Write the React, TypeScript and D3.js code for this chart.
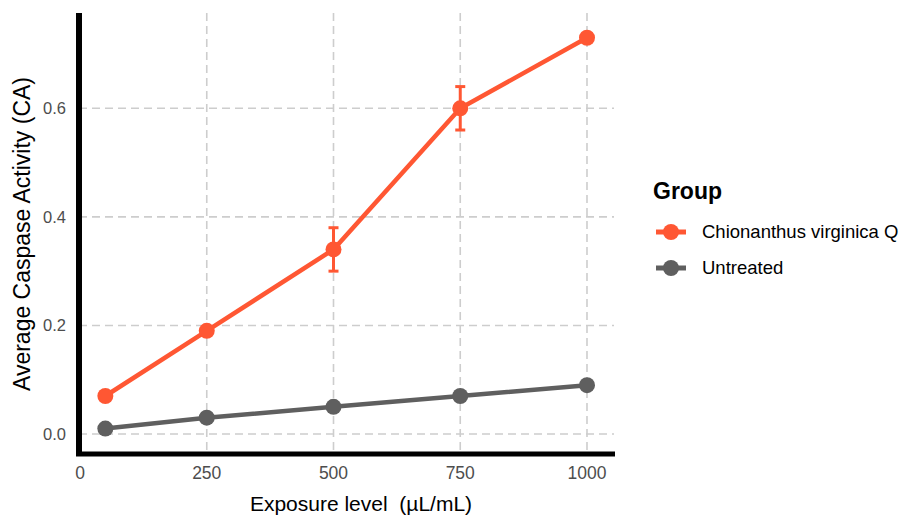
import React from 'react';
import * as d3 from 'd3';

// exposure levels (µL/mL)
const exposure = [50, 250, 500, 750, 1000];
const treatedMean = [0.07, 0.19, 0.34, 0.6, 0.73];
const treatedErr = [0, 0, 0.04, 0.04, 0];
const untreatedMean = [0.01, 0.03, 0.05, 0.07, 0.09];
const untreatedErr = [0, 0, 0, 0, 0];

const xTicks = [0, 250, 500, 750, 1000];
const yTicks = [0.0, 0.2, 0.4, 0.6];

const groups = [
  { name: 'Chionanthus virginica Q', color: '#FF5733', mean: treatedMean, err: treatedErr },
  { name: 'Untreated', color: '#5F5F5F', mean: untreatedMean, err: untreatedErr },
];

const W = 903;
const H = 516;
const FONT = '"Liberation Sans", Arial, Helvetica, sans-serif';

export default function App() {
  // panel edges in pixels
  const left = 79;
  const right = 614;
  const top = 13;
  const bottom = 453;

  const x = d3.scaleLinear().domain([0, 1000]).range([80, 587]);
  const y = d3.scaleLinear().domain([0, 0.6]).range([434, 108.3]);

  const line = d3.line<[number, number]>()
    .x(d => x(d[0]))
    .y(d => y(d[1]));

  return (
    <svg width={W} height={H} style={{ position: 'absolute', left: 0, top: 0, background: '#fff' }}
      fontFamily={FONT}>
      {/* grid */}
      <g stroke="#CDCDCD" strokeWidth={1.6} strokeDasharray="8,5" fill="none">
        {xTicks.map(t => (
          <line key={'gx' + t} x1={x(t)} x2={x(t)} y1={top} y2={bottom} />
        ))}
        {yTicks.map(t => (
          <line key={'gy' + t} x1={left} x2={right} y1={y(t)} y2={y(t)} />
        ))}
      </g>

      {/* series */}
      {groups.map(g => {
        const pts = exposure.map((e, i) => [e, g.mean[i]] as [number, number]);
        return (
          <g key={g.name}>
            <path d={line(pts) || ''} fill="none" stroke={g.color} strokeWidth={4.5} />
            {exposure.map((e, i) => g.err[i] > 0 ? (
              <g key={'e' + i} stroke={g.color} strokeWidth={3}>
                <line x1={x(e)} x2={x(e)} y1={y(g.mean[i] - g.err[i])} y2={y(g.mean[i] + g.err[i])} />
                <line x1={x(e) - 5} x2={x(e) + 5} y1={y(g.mean[i] + g.err[i])} y2={y(g.mean[i] + g.err[i])} />
                <line x1={x(e) - 5} x2={x(e) + 5} y1={y(g.mean[i] - g.err[i])} y2={y(g.mean[i] - g.err[i])} />
              </g>
            ) : null)}
            {pts.map((p, i) => (
              <circle key={'p' + i} cx={x(p[0])} cy={y(p[1])} r={8} fill={g.color} />
            ))}
          </g>
        );
      })}

      {/* axis lines */}
      <line x1={left} x2={left} y1={top} y2={bottom + 3} stroke="#000" strokeWidth={6} />
      <line x1={left - 3} x2={right + 1} y1={bottom + 1} y2={bottom + 1} stroke="#000" strokeWidth={5} />

      {/* tick labels */}
      <g fill="#4D4D4D" fontSize={16.5}>
        {yTicks.map(t => (
          <text key={'yl' + t} x={66} y={y(t)} dy="0.35em" textAnchor="end">{d3.format('.1f')(t)}</text>
        ))}
        {xTicks.map(t => (
          <text key={'xl' + t} x={x(t)} y={479} textAnchor="middle" fontSize={17.5}>{t}</text>
        ))}
      </g>

      {/* axis titles */}
      <text x={361} y={511} textAnchor="middle" fontSize={21} fill="#000" style={{ whiteSpace: 'pre' }}>
        {'Exposure level  (µL/mL)'}
      </text>
      <text transform="translate(30,234) rotate(-90)" textAnchor="middle" fontSize={23} fill="#000">
        Average Caspase Activity (CA)
      </text>

      {/* legend */}
      <text x={653} y={199} fontSize={23} fontWeight="bold" fill="#000">Group</text>
      {groups.map((g, i) => {
        const cy = 232 + i * 36;
        return (
          <g key={'lg' + g.name}>
            <line x1={656} x2={686} y1={cy} y2={cy} stroke={g.color} strokeWidth={5} />
            <circle cx={671} cy={cy} r={8} fill={g.color} />
            <text x={702} y={cy} dy="0.35em" fontSize={18.5} fill="#000">{g.name}</text>
          </g>
        );
      })}
    </svg>
  );
}
